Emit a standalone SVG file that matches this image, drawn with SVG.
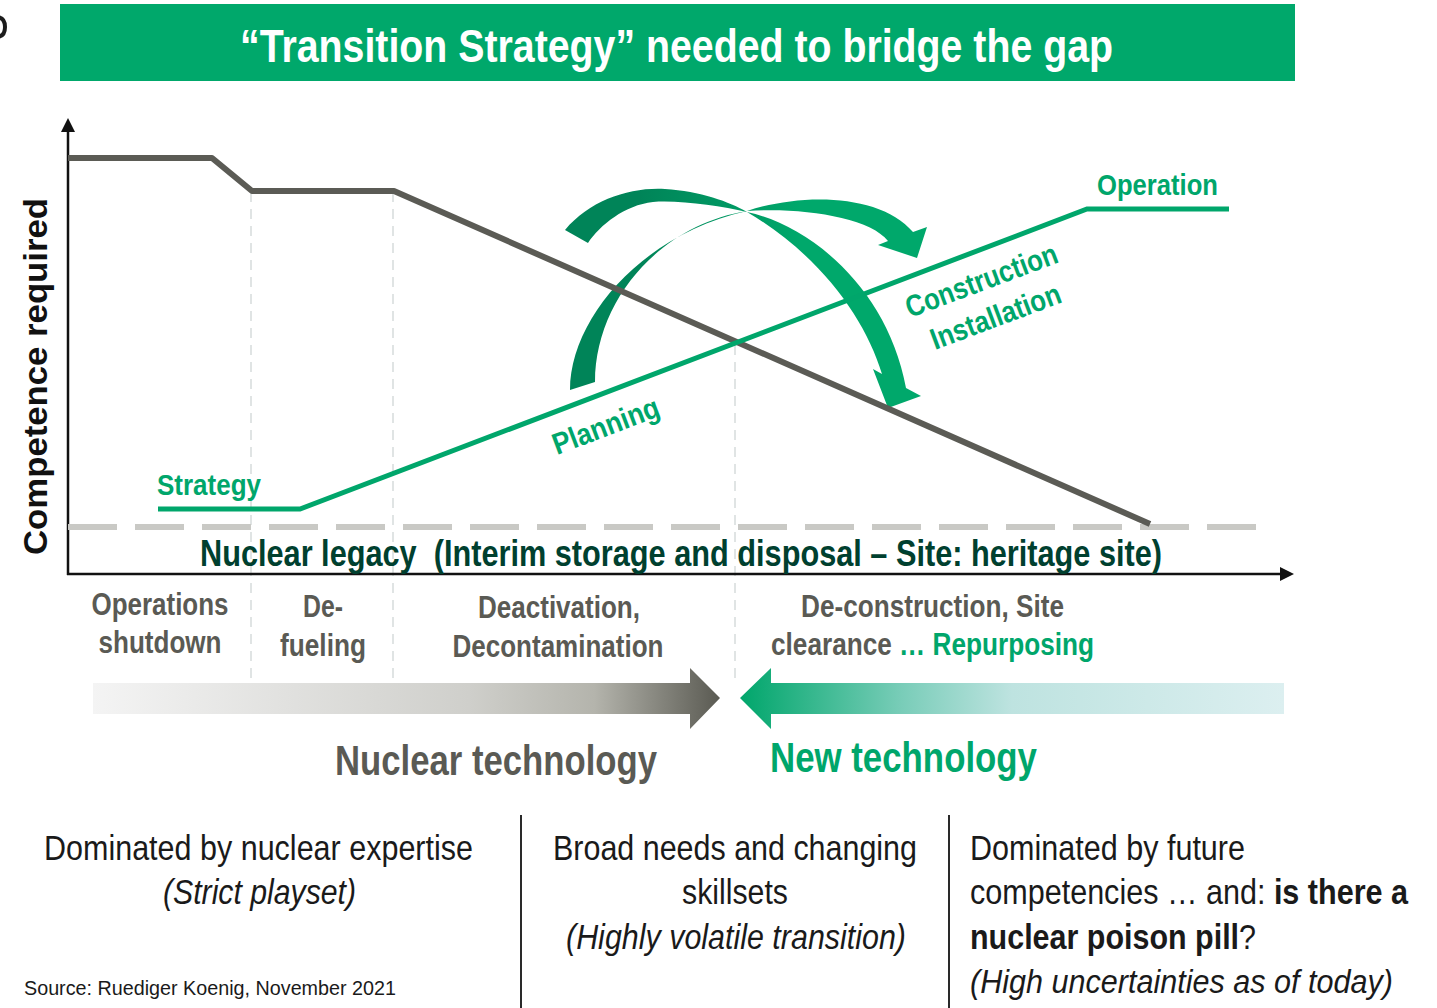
<svg xmlns="http://www.w3.org/2000/svg" width="1437" height="1008" viewBox="0 0 1437 1008">
  <defs>
    <style>
      .cond { font-family: "Liberation Sans Narrow", "Liberation Sans", Arial, sans-serif; font-weight: bold; }
      .reg { font-family: "Liberation Sans Narrow", "Liberation Sans", Arial, sans-serif; font-weight: normal; fill: #1a1a1a; }
      .green { fill: #00A66B; }
      .grey { fill: #5A5A54; }
      .dash-v { stroke: #E0E4E4; stroke-width: 2; stroke-dasharray: 10 7; fill: none; }
    </style>
    <marker id="axisHead" viewBox="0 0 14 14" refX="0" refY="7" markerWidth="14" markerHeight="14" markerUnits="userSpaceOnUse" orient="auto">
      <path d="M0,0 L14,7 L0,14 Z" fill="#111"/>
    </marker>
    <linearGradient id="swoosh" gradientUnits="userSpaceOnUse" x1="640" y1="0" x2="800" y2="0">
      <stop offset="0" stop-color="#008458"/>
      <stop offset="1" stop-color="#00A86B"/>
    </linearGradient>
    <linearGradient id="oldTech" gradientUnits="userSpaceOnUse" x1="93" y1="0" x2="720" y2="0">
      <stop offset="0" stop-color="#F4F4F4"/>
      <stop offset="0.6" stop-color="#CFCFCB"/>
      <stop offset="0.8" stop-color="#B4B4AC"/>
      <stop offset="1" stop-color="#5A5A52"/>
    </linearGradient>
    <linearGradient id="newTech" gradientUnits="userSpaceOnUse" x1="740" y1="0" x2="1284" y2="0">
      <stop offset="0" stop-color="#00A66B"/>
      <stop offset="0.3" stop-color="#7ACDB9"/>
      <stop offset="0.5" stop-color="#BEE3E0"/>
      <stop offset="1" stop-color="#DCEFF0"/>
    </linearGradient>
  </defs>

  <rect width="1437" height="1008" fill="#ffffff"/>

  <!-- clipped glyph fragment at the left edge -->
  <path d="M-4,17 C3,17 5,22 5,27 C5,32 3,37 -4,37" fill="none" stroke="#1c1c1c" stroke-width="4"/>

  <!-- title banner -->
  <g id="title">
    <rect x="60" y="4" width="1235" height="77" fill="#00A86B"/>
    <text class="cond" x="240" y="62" font-size="47" fill="#ffffff" textLength="873" lengthAdjust="spacingAndGlyphs">“Transition Strategy” needed to bridge the gap</text>
  </g>

  <!-- phase separators -->
  <g id="phase-guides">
    <line class="dash-v" x1="251" y1="192" x2="251" y2="678"/>
    <line class="dash-v" x1="393" y1="192" x2="393" y2="678"/>
    <line class="dash-v" x1="735" y1="345" x2="735" y2="680"/>
  </g>

  <!-- crossing transition arrows -->
  <g id="transition-arrows" fill="url(#swoosh)">
    <path d="M570,390 C570,320 640,235 747,211 C800,193 880,193 913,232 L927,227 L917,258 L878,245 L888,241 C870,217 800,207 747,211 C660,225 595,300 595,382 Z"/>
    <path d="M565,230 C590,200 630,187 665,189 C700,191 730,202 747,212 C812,226 888,290 906,388 L921,396 L888,408 L873,369 L882,374 C865,318 820,255 747,212 C720,206 680,200 653,202 C625,205 600,225 588,243 Z"/>
  </g>

  <!-- connectors: axes, baseline and competence curves -->
  <g id="connectors" fill="none">
    <line x1="68" y1="575" x2="68" y2="132" stroke="#111" stroke-width="2.5" marker-end="url(#axisHead)"/>
    <line x1="67" y1="574" x2="1280" y2="574" stroke="#111" stroke-width="2.5" marker-end="url(#axisHead)"/>
    <line x1="68" y1="527" x2="1262" y2="527" stroke="#C9C9C5" stroke-width="6" stroke-dasharray="49 18"/>
    <polyline points="68,158 212,158 252,191 394,191 1150,524" stroke="#5B5B55" stroke-width="6" stroke-linejoin="round"/>
    <polyline points="158,509 300,509 1087,209 1229,209" stroke="#00A66B" stroke-width="5"/>
  </g>

  <!-- axis title -->
  <g id="axis-label">
    <text transform="translate(47,555) rotate(-90)" font-family="Liberation Sans, Arial, sans-serif" font-weight="bold" font-size="34" fill="#111" textLength="357" lengthAdjust="spacingAndGlyphs">Competence required</text>
  </g>

  <!-- curve labels -->
  <g id="curve-labels" class="cond green" font-size="30">
    <text x="157" y="495" textLength="104" lengthAdjust="spacingAndGlyphs">Strategy</text>
    <text x="1097" y="195" textLength="121" lengthAdjust="spacingAndGlyphs">Operation</text>
    <text transform="translate(557,455) rotate(-20.7)" textLength="112" lengthAdjust="spacingAndGlyphs">Planning</text>
    <text transform="translate(910,318) rotate(-20.5)" textLength="160" lengthAdjust="spacingAndGlyphs">Construction</text>
    <text transform="translate(935,350) rotate(-20.5)" textLength="137" lengthAdjust="spacingAndGlyphs">Installation</text>
  </g>

  <!-- legacy baseline caption -->
  <g id="legacy">
    <text class="cond" x="200" y="566" font-size="36" fill="#00402F" textLength="962" lengthAdjust="spacingAndGlyphs">Nuclear legacy&#160; (Interim storage and disposal – Site: heritage site)</text>
  </g>

  <!-- phases along the time axis -->
  <g id="phase-shutdown" class="cond grey" font-size="31" text-anchor="middle">
    <text x="160" y="615" textLength="137" lengthAdjust="spacingAndGlyphs">Operations</text>
    <text x="160" y="653" textLength="123" lengthAdjust="spacingAndGlyphs">shutdown</text>
  </g>
  <g id="phase-defueling" class="cond grey" font-size="31" text-anchor="middle">
    <text x="323" y="617" textLength="40" lengthAdjust="spacingAndGlyphs">De-</text>
    <text x="323" y="656" textLength="86" lengthAdjust="spacingAndGlyphs">fueling</text>
  </g>
  <g id="phase-deactivation" class="cond grey" font-size="31" text-anchor="middle">
    <text x="559" y="618" textLength="162" lengthAdjust="spacingAndGlyphs">Deactivation,</text>
    <text x="558" y="657" textLength="211" lengthAdjust="spacingAndGlyphs">Decontamination</text>
  </g>
  <g id="phase-deconstruction" class="cond" font-size="31">
    <text class="grey" x="801" y="617" textLength="263" lengthAdjust="spacingAndGlyphs">De-construction, Site</text>
    <text x="771" y="655" textLength="323" lengthAdjust="spacingAndGlyphs"><tspan class="grey">clearance </tspan><tspan class="green">… Repurposing</tspan></text>
  </g>

  <!-- technology direction arrows -->
  <g id="nuclear-technology">
    <path d="M93,683 L690,683 L690,668 L720,698 L690,729 L690,714 L93,714 Z" fill="url(#oldTech)"/>
    <text class="cond grey" x="335" y="775" font-size="42" textLength="322" lengthAdjust="spacingAndGlyphs">Nuclear technology</text>
  </g>
  <g id="new-technology">
    <path d="M1284,683 L771,683 L771,668 L740,698 L771,729 L771,714 L1284,714 Z" fill="url(#newTech)"/>
    <text class="cond green" x="770" y="772" font-size="42" textLength="267" lengthAdjust="spacingAndGlyphs">New technology</text>
  </g>

  <!-- column dividers -->
  <g id="dividers" stroke="#2a2a2a" stroke-width="2">
    <line x1="521" y1="815" x2="521" y2="1008"/>
    <line x1="949" y1="815" x2="949" y2="1008"/>
  </g>

  <!-- assessment columns -->
  <g id="note-nuclear" class="reg" font-size="35">
    <text x="44" y="860" textLength="429" lengthAdjust="spacingAndGlyphs">Dominated by nuclear expertise</text>
    <text x="163" y="904" font-style="italic" textLength="193" lengthAdjust="spacingAndGlyphs">(Strict playset)</text>
  </g>
  <g id="note-transition" class="reg" font-size="35">
    <text x="553" y="860" textLength="364" lengthAdjust="spacingAndGlyphs">Broad needs and changing</text>
    <text x="682" y="904" textLength="106" lengthAdjust="spacingAndGlyphs">skillsets</text>
    <text x="566" y="949" font-style="italic" textLength="340" lengthAdjust="spacingAndGlyphs">(Highly volatile transition)</text>
  </g>
  <g id="note-future" class="reg" font-size="35">
    <text x="970" y="860" textLength="275" lengthAdjust="spacingAndGlyphs">Dominated by future</text>
    <text x="970" y="904" textLength="438" lengthAdjust="spacingAndGlyphs">competencies … and: <tspan font-weight="bold">is there a</tspan></text>
    <text x="970" y="949" textLength="286" lengthAdjust="spacingAndGlyphs"><tspan font-weight="bold">nuclear poison pill</tspan>?</text>
    <text x="970" y="993" font-size="34" font-style="italic" textLength="423" lengthAdjust="spacingAndGlyphs">(High uncertainties as of today)</text>
  </g>

  <!-- source line -->
  <g id="source">
    <text x="24" y="995" font-family="Liberation Sans, Arial, sans-serif" font-size="20" fill="#1a1a1a" textLength="372" lengthAdjust="spacingAndGlyphs">Source: Ruediger Koenig, November 2021</text>
  </g>
</svg>
